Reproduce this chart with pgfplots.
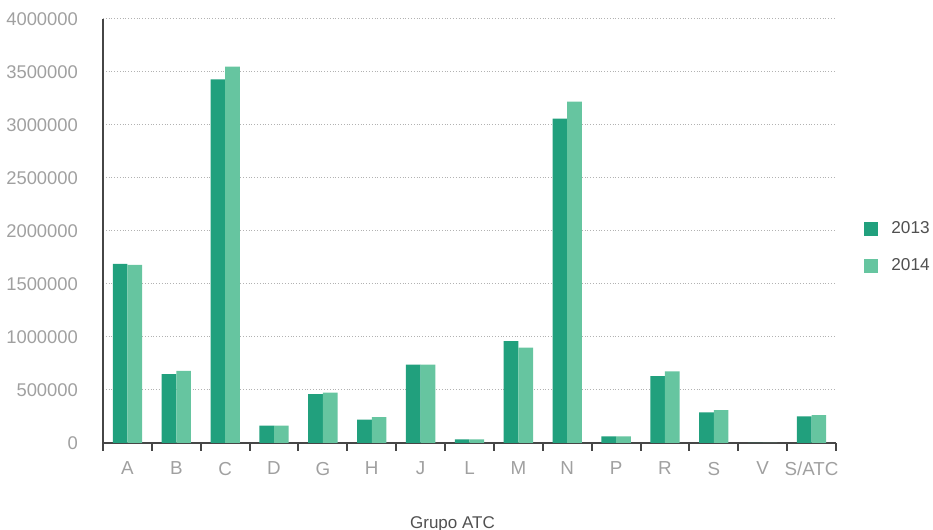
\documentclass[border=0pt]{standalone}
\usepackage{pgfplots}
\pgfplotsset{compat=1.18}
\usepackage{fontspec}
\setmainfont{Liberation Sans}
\definecolor{darkg}{RGB}{33,160,125}
\definecolor{lightg}{RGB}{102,197,160}
\definecolor{axgray}{RGB}{70,70,70}
\definecolor{tickgray}{RGB}{160,160,160}
\definecolor{leggray}{RGB}{80,80,80}
\begin{document}
\begin{tikzpicture}
\useasboundingbox (-51.5pt,-43.5pt) rectangle (415pt,221.5pt);
\begin{axis}[
  anchor=south west, at={(0,0)},
  scale only axis,
  width=366.5pt, height=212pt,
  ymin=0, ymax=4000000,
  xmin=-0.5, xmax=14.5,
  ybar=0pt, bar width=0.3,
  axis lines*=left,
  axis line style={axgray, line width=1pt},
  xtick={0,...,14},
  xticklabels={A,B,C,D,G,H,J,L,M,N,P,R,S,V,S/ATC},
  minor xtick={-0.5,0.5,...,14.5},
  major tick length=0pt,
  minor tick length=4pt,
  tick align=outside,
  minor x tick style={axgray, line width=1pt},
  ytick={0,500000,...,4000000},
  scaled y ticks=false,
  yticklabel style={/pgf/number format/fixed, /pgf/number format/1000 sep={}, /pgf/number format/assume math mode=true, font=\fontsize{9.2}{11}\selectfont, text=tickgray, xshift=-9pt},
  xticklabel style={font=\fontsize{9.4}{11}\selectfont, text=tickgray, yshift=-6pt},
  ymajorgrids,
  major grid style={densely dotted, gray!60, line width=0.5pt},
  xlabel={Grupo ATC},
  xlabel style={font=\fontsize{8.5}{10}\selectfont, text=leggray, yshift=-13.5pt, xshift=-8.5pt},
  legend style={draw=none, at={(1.03,0.46)}, anchor=west, font=\fontsize{8.6}{10}\selectfont, text=leggray, row sep=7pt, legend cell align=left, /tikz/every odd column/.append style={column sep=4.5pt}},
  legend image code/.code={\fill[#1] (0pt,-3.5pt) rectangle (7pt,3.5pt);},
]
\addplot[fill=darkg, draw=none] coordinates {
(0,1690000) (1,650000) (2,3430000) (3,165000) (4,460000) (5,220000) (6,740000) (7,35000) (8,960000) (9,3060000) (10,62000) (11,630000) (12,290000) (13,0) (14,250000)};
\addplot[fill=lightg, draw=none] coordinates {
(0,1680000) (1,680000) (2,3550000) (3,165000) (4,475000) (5,245000) (6,740000) (7,35000) (8,900000) (9,3220000) (10,62000) (11,675000) (12,310000) (13,0) (14,262000)};
\legend{2013,2014}
\end{axis}
\end{tikzpicture}
\end{document}
